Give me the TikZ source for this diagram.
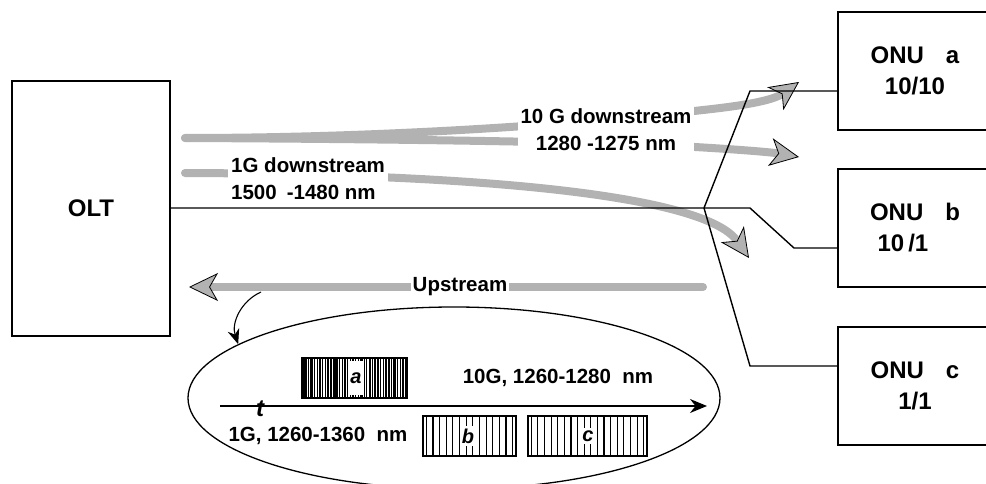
\documentclass[tikz,border=0pt]{standalone}
\usepackage{fontspec}
\setmainfont{Liberation Sans}
\usetikzlibrary{arrows.meta,shapes.geometric}
\tikzset{gtip/.tip={Stealth[length=29pt,width=28pt,inset=8pt,line width=.8pt,color=black,fill=gray!60]},
fibre/.style={line width=8pt,gray!60,line cap=round},
wire/.style={line width=1.4pt},
unit/.style={draw,line width=1.3pt,align=center,inner sep=0pt,font=\fontsize{24}{31}\selectfont\bfseries},
lbl/.style={fill=white,inner sep=3pt,font=\fontsize{20.5}{27}\selectfont\bfseries},
note/.style={inner sep=0pt,font=\fontsize{20.5}{24}\selectfont\bfseries},
tag/.style={fill=white,inner xsep=1.5pt,inner ysep=3pt,font=\fontsize{20}{20}\selectfont\bfseries\itshape}}
\newcommand{\burst}[5]{\draw[line width=1.1pt] (#1,#2) rectangle +(#3,40);\foreach \i in {1,...,#4}{\pgfmathsetmacro\lw{#5}\draw[line width=\lw pt] ({#1+(\i-.5)*#3/#4},#2)--++(0,40);}}
\begin{document}
\begin{tikzpicture}[x=1pt,y=-1pt,>=Stealth]
\useasboundingbox (0,0) rectangle (986,484);\clip (0,0) rectangle (986,484);
\node[unit,minimum width=158pt,minimum height=255pt] (olt) at (91,208.5) {OLT};
\node[unit,minimum width=154pt,minimum height=118pt] (onua) at (915,71) {ONU\hspace{22pt}a\\10/10};
\node[unit,minimum width=154pt,minimum height=118pt] (onub) at (915,228) {ONU\hspace{22pt}b\\10\,/1\hspace*{24pt}};
\node[unit,minimum width=154pt,minimum height=118pt] (onuc) at (915,386) {ONU\hspace{22pt}c\\1/1};
\draw[fibre,-gtip] (185,138) .. controls (400,138) and (600,122) .. (703,110) .. controls (740,106) and (772,101) .. (799,82);
\draw[fibre,-gtip] (185,138) .. controls (400,139) and (600,142) .. (695,147) .. controls (730,149) and (770,152) .. (799,157);
\draw[fibre,-gtip] (185,173) .. controls (480,174) and (705,195) .. (749,258);
\draw[fibre,gtip-] (189,287) -- (703,287);
\node[lbl,align=center] (dn10) at (606,130) {10 G downstream\\1280 -1275 nm};
\node[lbl,align=left,anchor=west] (dn1) at (228,179) {1G downstream\\1500\hspace{10pt}-1480 nm};
\node[lbl,inner xsep=2pt] (up) at (460,287) {Upstream};
\coordinate (split) at (704,208);\coordinate (ka) at (750,91);\coordinate (kb) at (750,208);\coordinate (kb2) at (794,248);\coordinate (kc) at (750,366);
\draw[wire] (split-|olt.east) -- (split) -- (ka) -- (ka-|onua.west);
\draw[wire] (split) -- (kb) -- (kb2) -- (kb2-|onub.west);
\draw[wire] (split) -- (kc) -- (kc-|onuc.west);
\node[draw,ellipse,line width=1.3pt,minimum width=532pt,minimum height=182pt,inner sep=0pt] (slot) at (454,398) {};
\coordinate (uk) at (261,292);
\draw[line width=1.1pt,-{Stealth[length=15pt,width=12pt]}] (uk) to[bend right=42] (slot.166);
\coordinate (t0) at (220,406);\coordinate (t1) at (707,406);
\draw[line width=1.5pt,-{Stealth[length=17pt,width=14pt]}] (t0) -- (t1);
\node[font=\fontsize{24}{24}\selectfont\bfseries\itshape] (tt) at (260,409) {t};
\node[note] (hi) at (558,378) {10G, 1260-1280\ \ nm};
\node[note] (lo) at (318,436) {1G, 1260-1360\ \ nm};
\burst{302}{358}{105}{38}{mod(\i,3)==1?2.4:(mod(\i,5)==2?1.8:1.1)}
\node[tag,minimum height=34pt] (ba) at (356,378) {a};
\burst{423}{416}{93}{14}{1.1}
\node[tag] (bb) at (468,436) {b};
\burst{528}{416}{119}{18}{1.1}
\node[tag] (bc) at (588,436) {c};
\end{tikzpicture}
\end{document}
